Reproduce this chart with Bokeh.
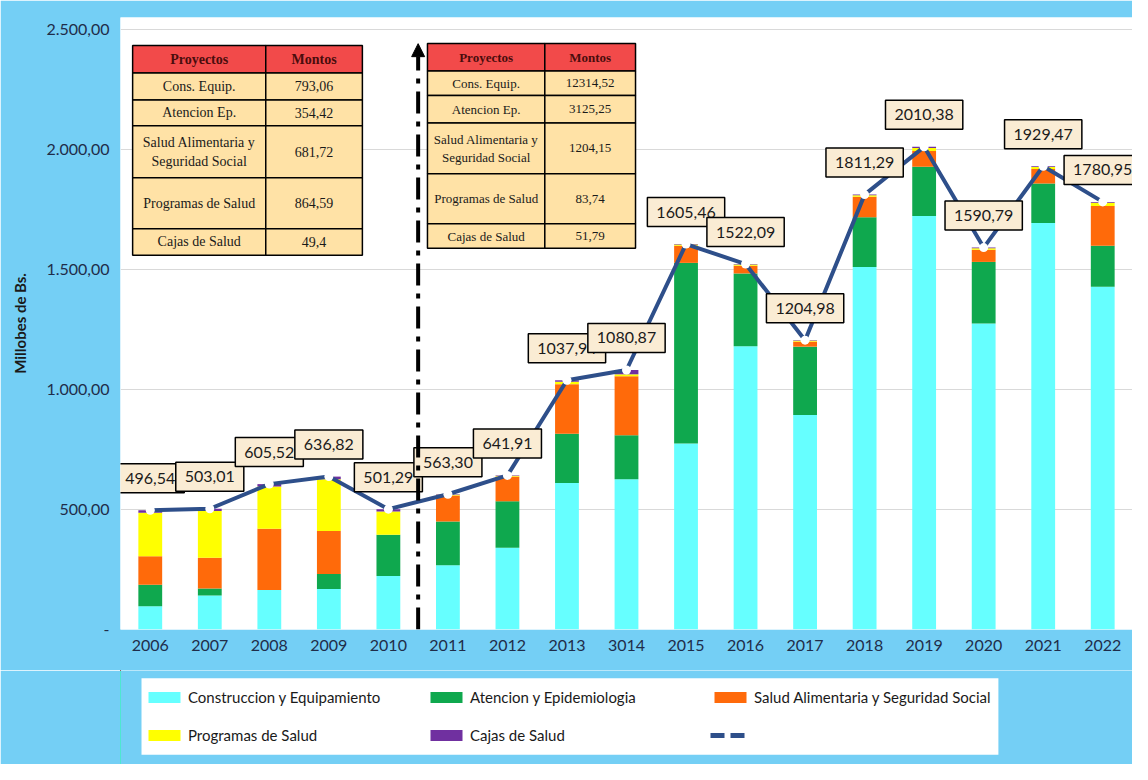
from bokeh.plotting import figure
from bokeh.layouts import column
from bokeh.models import (Range1d, FixedTicker, ColumnDataSource, Legend, LegendItem,
                          BoxAnnotation, Label, Arrow, NormalHead)
from bokeh.embed import file_html
from bokeh.resources import INLINE
from bokeh.core.properties import value

# ---------------- data ----------------
years = ["2006", "2007", "2008", "2009", "2010", "2011", "2012", "2013", "3014",
         "2015", "2016", "2017", "2018", "2019", "2020", "2021", "2022"]
construccion = [96.5, 141.5, 164, 168.5, 222.56, 268, 341, 610, 626, 775, 1180, 893, 1510, 1722, 1275, 1693, 1428]
atencion = [90, 29, 0, 63, 172.42, 182, 193, 205, 183, 752, 303, 285, 207, 205, 256, 165, 170]
salud_alim = [119, 128, 256, 178.72, 0, 108.3, 102.91, 206.94, 245.87, 71.46, 32.09, 20.98, 85.29, 66.38, 50.79, 60.47, 165.42]
programas = [181.04, 195.51, 175.52, 215.6, 96.91, 3, 3, 10, 8, 5, 5, 4, 6, 12, 6, 8, 13.74]
cajas = [10, 9, 10, 11, 9.4, 2, 2, 6, 18, 2, 2, 2, 3, 5, 3, 3, 3.79]
totals = [496.54, 503.01, 605.52, 636.82, 501.29, 563.30, 641.91, 1037.94, 1080.87,
          1605.46, 1522.09, 1204.98, 1811.29, 2010.38, 1590.79, 1929.47, 1780.95]

series_names = ["Construccion y Equipamiento", "Atencion y Epidemiologia",
                "Salud Alimentaria y Seguridad Social", "Programas de Salud", "Cajas de Salud"]
series_colors = ["#66FFFF", "#0FA84E", "#FF6A0A", "#FFFF00", "#7030A0"]

y_ticks = [0, 500, 1000, 1500, 2000, 2500]
y_tick_labels = ["-", "500,00", "1.000,00", "1.500,00", "2.000,00", "2.500,00"]

table_rows = ["Cons. Equip.", "Atencion Ep.", "Salud Alimentaria y\nSeguridad Social",
              "Programas de Salud", "Cajas de Salud"]
table1_vals = ["793,06", "354,42", "681,72", "864,59", "49,4"]
table2_vals = ["12314,52", "3125,25", "1204,15", "83,74", "51,79"]
table_headers = ["Proyectos", "Montos"]

# ---------------- layout constants ----------------
W, H = 1132, 764
KX, KY = W / 1148, H / 780          # reference-pixel -> figure-pixel
FL = round(122 * KX)                # frame left
FT = round(17 * KY)                 # frame top
FB = round(642 * KY)                # frame bottom
H1 = 670
H2 = H - H1
YTOP = 2549
BLUE = "#74CFF5"
NAVY = "#1F2D4A"
FONT = "Lato"
LINE_COLOR = "#2E4F8A"

idx = list(range(len(years)))
src = ColumnDataSource(dict(
    x=idx, construccion=construccion, atencion=atencion, salud_alim=salud_alim,
    programas=programas, cajas=cajas, total=totals,
    lbl=[f"{t:.2f}".replace(".", ",") for t in totals]))

p = figure(width=W, height=H1, output_backend="svg", toolbar_location=None,
           x_range=Range1d(-0.5, len(years) - 0.5), y_range=Range1d(0, YTOP),
           min_border_left=FL, min_border_right=0, min_border_top=FT,
           min_border_bottom=H1 - FB)
p.border_fill_color = BLUE
p.background_fill_color = "white"
p.outline_line_color = None

# grid
p.xgrid.grid_line_color = None
p.ygrid.ticker = FixedTicker(ticks=y_ticks[1:])
p.ygrid.grid_line_color = "#D9D9D9"
p.ygrid.grid_line_width = 1

# stacked bars
keys = ["construccion", "atencion", "salud_alim", "programas", "cajas"]
bars = p.vbar_stack(keys, x="x", width=0.4, source=src, color=series_colors, line_color=None)

# total line
p.line("x", "total", source=src, line_color=LINE_COLOR, line_width=4)
p.scatter("x", "total", source=src, size=9, fill_color="white", line_color=None)

# divider arrow between 2010 and 2011
p.add_layout(Arrow(end=NormalHead(size=13, fill_color="black", line_color="black"),
                   x_start=4.5, y_start=0, x_end=4.5, y_end=2440,
                   line_color="black", line_width=4, line_dash="22 8 5 8"))

# value labels
p.text(x="x", y="total", text="lbl", source=src, y_offset=-32,
       text_align="center", text_baseline="middle",
       text_font=value(FONT), text_font_size="16px", text_color="#1a1a1a",
       background_fill_color="#FAECD4", border_line_color="black",
       border_line_width=1.5, padding=9)

# axes
p.xaxis.ticker = FixedTicker(ticks=idx)
p.xaxis.major_label_overrides = {i: y for i, y in enumerate(years)}
p.yaxis.ticker = FixedTicker(ticks=y_ticks)
p.yaxis.major_label_overrides = {t: l for t, l in zip(y_ticks, y_tick_labels)}
for ax in (p.xaxis, p.yaxis):
    ax.axis_line_color = None
    ax.major_tick_line_color = None
    ax.minor_tick_line_color = None
    ax.major_tick_out = 0
    ax.minor_tick_out = 0
    ax.major_label_text_font = FONT
    ax.major_label_text_font_size = "16px"
    ax.major_label_text_color = NAVY
p.xaxis.major_label_standoff = 10
p.yaxis.major_label_standoff = 11
p.yaxis.axis_label = "Millobes de Bs."
p.yaxis.axis_label_text_font = FONT
p.yaxis.axis_label_text_font_size = "15px"
p.yaxis.axis_label_text_font_style = "bold"
p.yaxis.axis_label_text_color = "#1a1a1a"
p.yaxis.axis_label_standoff = 14


# tables (screen units relative to frame), positions given in reference pixels
def sx(x):
    return x * KX - FL


def sy(y):
    return FB - y * KY


def add_table(left, mid, right, edges, vals, fsize):
    cols = [(left, mid), (mid, right)]
    for r in range(len(edges) - 1):
        top, bot = edges[r], edges[r + 1]
        fill = "#F24A4A" if r == 0 else "#FFE2A6"
        for c, (l, rr) in enumerate(cols):
            p.add_layout(BoxAnnotation(left=sx(l), right=sx(rr), top=sy(top), bottom=sy(bot),
                                       left_units="screen", right_units="screen",
                                       top_units="screen", bottom_units="screen",
                                       fill_color=fill, fill_alpha=1, line_color="black",
                                       line_width=1.5, line_alpha=1))
            if r == 0:
                txt = table_headers[c]
            else:
                txt = table_rows[r - 1] if c == 0 else vals[r - 1]
            lines = txt.split("\n")
            cy = (top + bot) / 2
            lh = fsize + 6
            for k, t in enumerate(lines):
                yy = cy + (k - (len(lines) - 1) / 2) * lh
                p.add_layout(Label(x=sx((l + rr) / 2), y=sy(yy), x_units="screen", y_units="screen",
                                   text=t, text_align="center", text_baseline="middle",
                                   text_font="Liberation Serif", text_font_size=f"{fsize}px",
                                   text_font_style="bold" if r == 0 else "normal",
                                   text_color="#4A0D0D" if r == 0 else "#1a1a1a"))


add_table(134, 269, 367, [46, 74, 101.5, 128, 181, 233, 260], table1_vals, 14)
add_table(433, 552, 644, [44, 72, 97, 125, 177, 228, 253], table2_vals, 13)

# ---------------- legend strip ----------------
q = figure(width=W, height=H2, output_backend="svg", toolbar_location=None,
           x_range=Range1d(100, 101), y_range=Range1d(100, 101),
           x_axis_location=None, y_axis_location=None,
           min_border_left=0, min_border_right=0, min_border_top=0, min_border_bottom=0)
q.border_fill_color = BLUE
q.background_fill_color = BLUE
q.outline_line_color = None
q.grid.grid_line_color = None

# white legend panel (reference box 143..1012 x 692..770)
q.add_layout(BoxAnnotation(left=143 * KX - FL, right=1012 * KX - FL,
                           top=H - 692 * KY, bottom=H - 770 * KY,
                           left_units="screen", right_units="screen",
                           top_units="screen", bottom_units="screen",
                           fill_color="white", fill_alpha=1, line_color=None, level="underlay"))

# legend swatches: renderers of the same series (kept outside the strip's visible range)
sw = q.vbar_stack(keys, x="x", width=0.4, source=src, color=series_colors, line_color=None)
dash = q.line("x", "total", source=src, line_color=LINE_COLOR, line_width=5, line_dash="14 6")

legend_cols = [
    ([LegendItem(label=series_names[0], renderers=[sw[0]]),
      LegendItem(label=series_names[3], renderers=[sw[3]])], 146, 432),
    ([LegendItem(label=series_names[1], renderers=[sw[1]]),
      LegendItem(label=series_names[4], renderers=[sw[4]])], 432, 720),
    ([LegendItem(label=series_names[2], renderers=[sw[2]]),
      LegendItem(label=" ", renderers=[dash])], 720, 1010),
]
for its, l_ref, r_ref in legend_cols:
    lw = round((r_ref - l_ref) * KX) - 44
    lg = Legend(items=its, location=(round(l_ref * KX) - FL, 19),
                orientation="vertical",
                glyph_width=40, glyph_height=14, label_height=20, label_width=lw,
                label_standoff=4, spacing=18, padding=9, margin=0,
                background_fill_color="white", background_fill_alpha=1,
                border_line_color=None, label_text_font=FONT,
                label_text_font_size="15px", label_text_color="#1a1a1a")
    q.add_layout(lg, "center")

page = column(p, q, spacing=0)
open("out.html", "w").write(file_html(page, INLINE))
